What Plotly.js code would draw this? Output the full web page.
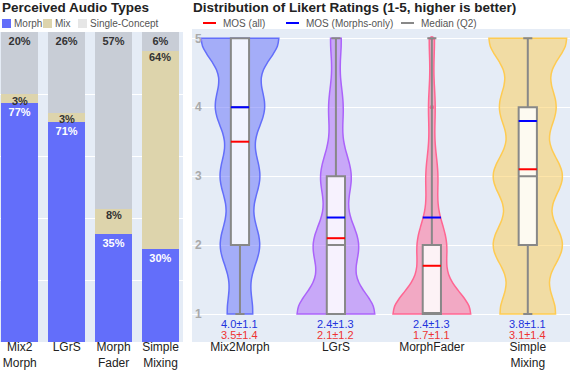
<!DOCTYPE html>
<html>
<head>
<meta charset="utf-8">
<script src="https://cdn.plot.ly/plotly-3.0.1.min.js"></script>
<style>
  html, body { margin: 0; padding: 0; background: #fff; }
  #chart { width: 570px; height: 370px; }
</style>
</head>
<body>
<div id="chart"></div>
<script>
// Perceived audio types (stacked %) + Likert rating violins

const systems = ['Mix2Morph', 'LGrS', 'MorphFader', 'Simple Mixing'];
const barTickText = ['Mix2<br>Morph', 'LGrS', 'Morph<br>Fader', 'Simple<br>Mixing'];
const violinTickText = ['Mix2Morph', 'LGrS', 'MorphFader', 'Simple<br>Mixing'];

const morphPct = [77, 71, 35, 30];
const mixPct = [3, 3, 8, 64];
const singlePct = [20, 26, 57, 6];

// number of ratings given at each Likert level 1..5
const ratingLevels = [1, 2, 3, 4, 5];
const mix2morphCounts = [11, 17, 17, 21, 34];
const lgrsCounts = [44, 25, 17, 8, 6];
const morphFaderCounts = [60, 22, 9, 5, 4];
const simpleMixCounts = [17, 21, 21, 17, 24];

const mosAll = [3.5, 2.1, 1.7, 3.1];
const sdAll = [1.4, 1.2, 1.1, 1.4];
const mosMorph = [4.0, 2.4, 2.4, 3.8];
const sdMorph = [1.1, 1.3, 1.3, 1.1];

const violinColors = ['#636EFA', '#AB63FA', '#FF6692', '#FECB52'];
const FONT = 'Liberation Sans, Arial, sans-serif';

// figure geometry, used to place the hand-made legends / titles
const W = 570, H = 370;
const M = { l: 0, r: 0, t: 29, b: 28 };
const PH = H - M.t - M.b;
const px = x => x / W;
const py = y => (H - M.b - y) / PH;

function expand(counts) {
    const out = [];
    counts.forEach((c, i) => {
        for (let k = 0; k < c; k++) out.push(ratingLevels[i]);
    });
    return out;
}

function hexToRgba(hex, a) {
    const n = parseInt(hex.slice(1), 16);
    return `rgba(${(n >> 16) & 255},${(n >> 8) & 255},${n & 255},${a})`;
}

const ratings = [mix2morphCounts, lgrsCounts, morphFaderCounts, simpleMixCounts].map(expand);

// ---- left: stacked bars
const barBase = {
    type: 'bar',
    x: systems,
    xaxis: 'x',
    yaxis: 'y',
    textposition: 'inside',
    insidetextanchor: 'end',
    textangle: 0,
    constraintext: 'none',
    hoverinfo: 'skip',
    showlegend: false
};

const traces = [
    { ...barBase, name: 'Morph', y: morphPct, marker: { color: '#636EFA' }, texttemplate: '%{y}%',
      textfont: { size: 11, color: '#fff', weight: 700, family: FONT } },
    { ...barBase, name: 'Mix', y: mixPct, marker: { color: '#DDD4AC' }, textposition: 'none' },
    { ...barBase, name: 'Single-Concept', y: singlePct, marker: { color: '#C8CDD6' }, texttemplate: '%{y}%',
      textfont: { size: 11, color: '#333', weight: 700, family: FONT } }
];

// ---- right: violins
systems.forEach((s, i) => {
    traces.push({
        type: 'violin',
        x: ratings[i].map(() => s),
        y: ratings[i],
        xaxis: 'x2',
        yaxis: 'y2',
        name: s,
        width: 0.81,
        bandwidth: 0.35,
        spanmode: 'hard',
        scalemode: 'width',
        line: { color: violinColors[i], width: 1.5 },
        fillcolor: hexToRgba(violinColors[i], 0.5),
        points: 'outliers',
        pointpos: 0,
        jitter: 0,
        marker: { size: 4, color: hexToRgba(violinColors[i], 0.6) },
        box: { visible: false },
        meanline: { visible: false },
        hoverinfo: 'skip',
        showlegend: false
    });
});

// box on top of the violins
traces.push({
    type: 'box',
    x: ratings.flatMap((r, i) => r.map(() => systems[i])),
    y: ratings.flat(),
    xaxis: 'x2',
    yaxis: 'y2',
    width: 0.19,
    whiskerwidth: 0.5,
    boxpoints: false,
    fillcolor: 'rgba(255,255,255,0.85)',
    line: { color: '#888', width: 2 },
    hoverinfo: 'skip',
    showlegend: false
});

// MOS lines
const shapes = [];
const HALF = 0.095;
systems.forEach((s, i) => {
    shapes.push({ type: 'line', xref: 'x2', yref: 'y2', x0: i - HALF, x1: i + HALF,
                  y0: mosAll[i], y1: mosAll[i], line: { color: 'red', width: 2 } });
    shapes.push({ type: 'line', xref: 'x2', yref: 'y2', x0: i - HALF, x1: i + HALF,
                  y0: mosMorph[i], y1: mosMorph[i], line: { color: 'blue', width: 2 } });
});

const annotations = [];

// Mix labels sit just under the top of the (often thin) Mix segment
systems.forEach((s, i) => {
    annotations.push({ xref: 'x', yref: 'y', x: s, y: morphPct[i] + mixPct[i], yanchor: 'middle',
        yshift: -6.5, showarrow: false, text: `${mixPct[i]}%`,
        font: { family: FONT, size: 11, color: '#333', weight: 700 } });
});

// mean +- sd under each violin
systems.forEach((s, i) => {
    annotations.push({ xref: 'x2', yref: 'y2', x: s, y: 0.855, showarrow: false,
        text: `${mosMorph[i].toFixed(1)}±${sdMorph[i].toFixed(1)}`,
        font: { family: FONT, size: 11, color: '#2233dd' } });
    annotations.push({ xref: 'x2', yref: 'y2', x: s, y: 0.695, showarrow: false,
        text: `${mosAll[i].toFixed(1)}±${sdAll[i].toFixed(1)}`,
        font: { family: FONT, size: 11, color: '#ee3333' } });
});

// titles
annotations.push({ xref: 'paper', yref: 'paper', x: px(0), y: py(8), xanchor: 'left', yanchor: 'middle',
    showarrow: false, text: '<b>Perceived Audio Types</b>', font: { family: FONT, size: 13.5, color: '#222' } });
annotations.push({ xref: 'paper', yref: 'paper', x: px(191), y: py(8), xanchor: 'left', yanchor: 'middle',
    showarrow: false, text: '<b>Distribution of Likert Ratings (1-5, higher is better)</b>',
    font: { family: FONT, size: 13.5, color: '#222' } });

// hand-made legends (compact, like the original)
const barLegend = [
    { label: 'Morph', color: '#636EFA', x: 2 },
    { label: 'Mix', color: '#DDD4AC', x: 43 },
    { label: 'Single-Concept', color: '#E6E6E6', x: 78 }
];
barLegend.forEach(it => {
    shapes.push({ type: 'rect', xref: 'paper', yref: 'paper', x0: px(it.x), x1: px(it.x + 9),
        y0: py(28), y1: py(19), fillcolor: it.color, line: { width: 0 } });
    annotations.push({ xref: 'paper', yref: 'paper', x: px(it.x + 10), y: py(23.5), xanchor: 'left',
        yanchor: 'middle', showarrow: false, text: it.label, font: { family: FONT, size: 10, color: '#555' } });
});

const lineLegend = [
    { label: 'MOS (all)', color: 'red', x: 203 },
    { label: 'MOS (Morphs-only)', color: 'blue', x: 286 },
    { label: 'Median (Q2)', color: '#888', x: 401 }
];
lineLegend.forEach(it => {
    shapes.push({ type: 'line', xref: 'paper', yref: 'paper', x0: px(it.x), x1: px(it.x + 13),
        y0: py(23), y1: py(23), line: { color: it.color, width: 2 } });
    annotations.push({ xref: 'paper', yref: 'paper', x: px(it.x + 18), y: py(23.5), xanchor: 'left',
        yanchor: 'middle', showarrow: false, text: it.label, font: { family: FONT, size: 10, color: '#555' } });
});

const layout = {
    width: W,
    height: H,
    margin: M,
    font: { family: FONT, color: '#444' },
    paper_bgcolor: '#fff',
    plot_bgcolor: '#E5ECF6',
    barmode: 'stack',
    bargap: 0.21,
    violinmode: 'overlay',
    boxmode: 'overlay',
    showlegend: false,
    hovermode: false,
    xaxis: {
        domain: [0, 183 / W],
        type: 'category',
        range: [-0.42, 3.48],
        tickvals: systems,
        ticktext: barTickText,
        showgrid: false,
        ticks: '',
        ticklabelstandoff: -4,
        tickfont: { size: 12, color: '#222' }
    },
    yaxis: {
        domain: [0, 310 / PH],
        range: [0, 100],
        dtick: 20,
        showticklabels: false,
        gridcolor: '#fff',
        zeroline: false
    },
    xaxis2: {
        domain: [192 / W, 1],
        anchor: 'y2',
        type: 'category',
        range: [-0.5, 3.44],
        tickvals: systems,
        ticktext: violinTickText,
        showgrid: false,
        ticks: '',
        ticklabelstandoff: -4,
        tickfont: { size: 12, color: '#222' }
    },
    yaxis2: {
        anchor: 'x2',
        range: [0.594, 5.135],
        tickvals: ratingLevels,
        ticklabelposition: 'inside',
        tickfont: { size: 12, color: '#aaa', weight: 700 },
        gridcolor: '#fff',
        zeroline: false
    },
    shapes: shapes,
    annotations: annotations
};

Plotly.newPlot('chart', traces, layout, { displayModeBar: false, staticPlot: true });
</script>
</body>
</html>
